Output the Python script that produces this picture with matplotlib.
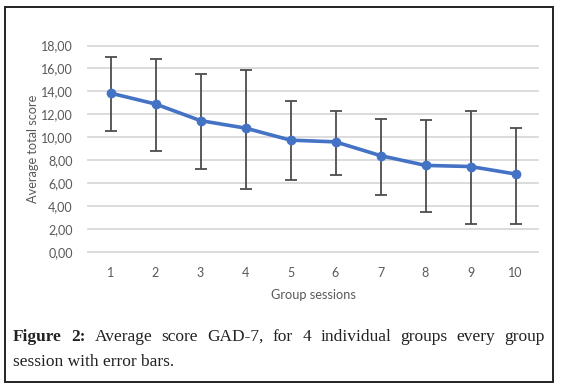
import matplotlib
matplotlib.use("Agg")
import matplotlib.pyplot as plt
from matplotlib.patches import Rectangle

sessions = [1, 2, 3, 4, 5, 6, 7, 8, 9, 10]
means = [13.85, 12.9, 11.45, 10.8, 9.75, 9.6, 8.4, 7.55, 7.45, 6.8]
upper = [16.96, 16.84, 15.53, 15.9, 13.13, 12.32, 11.63, 11.48, 12.32, 10.81]
lower = [10.55, 8.8, 7.22, 5.5, 6.26, 6.7, 4.96, 3.45, 2.4, 2.4]
yticks = [0, 2, 4, 6, 8, 10, 12, 14, 16, 18]
ylabels = ["%.2f" % v for v in yticks]
ylabels = [s.replace(".", ",") for s in ylabels]

W, H = 561, 390
fig = plt.figure(figsize=(W / 100, H / 100), dpi=100)

# outer frame
fig.patches.append(Rectangle((5 / W, 1 - 382 / H), 548 / W, 375 / H,
                             transform=fig.transFigure, fill=False,
                             edgecolor="#222222", linewidth=1.4))

ax = fig.add_axes([88 / W, 1 - 252 / H, 450 / W, (252 - 45.5) / H])
err_lo = [m - l for m, l in zip(means, lower)]
err_hi = [u - m for m, u in zip(means, upper)]
ax.errorbar(sessions, means, yerr=[err_lo, err_hi], fmt="none",
            ecolor="#4d4d4d", elinewidth=1.3, capsize=4, capthick=1.3, zorder=2)
ax.plot(sessions, means, color="#4472C4", linewidth=2.6, marker="o",
        markersize=6, zorder=3)

ax.set_xlim(0.5, 10.5)
ax.set_ylim(0, 18)
ax.set_xticks(sessions)
ax.set_xticklabels([str(s) for s in sessions])
ax.set_yticks(yticks)
ax.set_yticklabels(ylabels)
ax.grid(axis="y", color="#d9d9d9", linewidth=1.3)
for gl in ax.get_ygridlines():
    gl.set_clip_on(False)
ax.set_axisbelow(True)
for s in ax.spines.values():
    s.set_visible(False)
ax.tick_params(length=0, labelsize=9, labelcolor="#595959")
for lab in ax.get_xticklabels() + ax.get_yticklabels():
    lab.set_family("Lato")
ax.tick_params(axis="y", pad=11)
ax.tick_params(axis="x", pad=11)
ax.set_xlabel("Group sessions", fontsize=9.2, color="#595959", family="Lato", labelpad=7)
ax.set_ylabel("Average total score", fontsize=9.2, color="#595959", family="Lato", labelpad=1.5)

# caption, line 1 justified
fig.canvas.draw()
renderer = fig.canvas.get_renderer()
line1_parts = [("Figure", "bold"), ("2:", "bold"), ("Average", "normal"), ("score", "normal"),
               ("GAD-7,", "normal"), ("for", "normal"), ("4", "normal"), ("individual", "normal"),
               ("groups", "normal"), ("every", "normal"), ("group", "normal")]
x0, x1 = 13, 545
y1 = 1 - 337 / H
fs = 12.5
texts = []
total = 0
for w, wt in line1_parts:
    t = fig.text(0, y1, w, fontsize=fs, family="Liberation Serif", weight=wt,
                 color="#222222", va="center", ha="left")
    bb = t.get_window_extent(renderer)
    texts.append((t, bb.width))
    total += bb.width
gap = ((x1 - x0) - total) / (len(texts) - 1)
x = x0
for t, wd in texts:
    t.set_x(x / W)
    x += wd + gap
fig.text(x0 / W, 1 - 362 / H, "session with error bars.", fontsize=fs,
         family="Liberation Serif", color="#222222", va="center", ha="left")

fig.savefig("out.png", dpi=100)
